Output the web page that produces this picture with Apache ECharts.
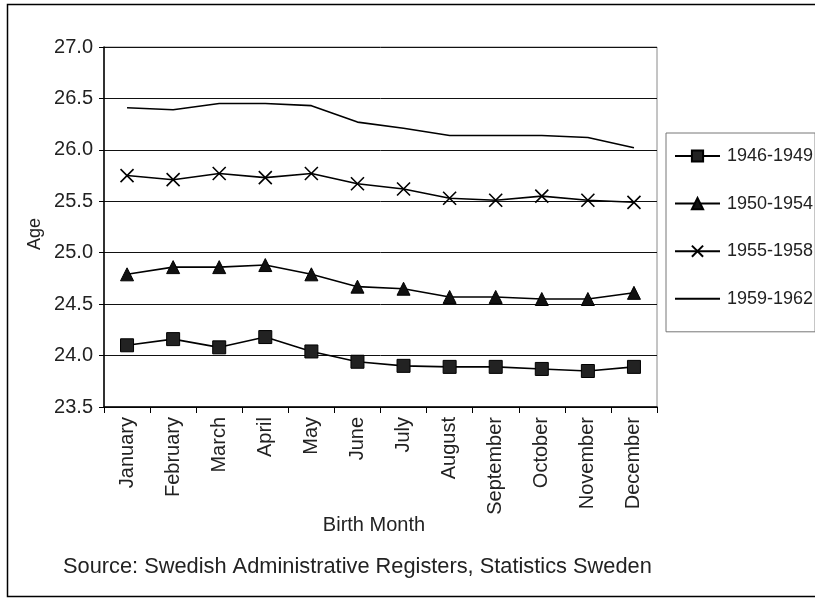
<!DOCTYPE html>
<html>
<head>
<meta charset="utf-8">
<script src="https://cdn.jsdelivr.net/npm/echarts@6/dist/echarts.min.js"></script>
<style>
  html, body { margin: 0; padding: 0; background: #fff; }
  #chart { width: 815px; height: 600px; }
</style>
</head>
<body>
<div id="chart"></div>
<script>
// Mean age by birth month, four birth cohorts
const months = ['January', 'February', 'March', 'April', 'May', 'June',
  'July', 'August', 'September', 'October', 'November', 'December'];

const cohort1946 = [24.10, 24.16, 24.08, 24.18, 24.04, 23.94, 23.90, 23.89, 23.89, 23.87, 23.85, 23.89];
const cohort1950 = [24.79, 24.86, 24.86, 24.88, 24.79, 24.67, 24.65, 24.57, 24.57, 24.55, 24.55, 24.61];
const cohort1955 = [25.75, 25.71, 25.77, 25.73, 25.77, 25.67, 25.62, 25.53, 25.51, 25.55, 25.51, 25.49];
const cohort1959 = [26.41, 26.39, 26.45, 26.45, 26.43, 26.27, 26.21, 26.14, 26.14, 26.14, 26.12, 26.02];

const seriesNames = ['1946-1949', '1950-1954', '1955-1958', '1959-1962'];

const FONT = '"Liberation Sans", Arial, sans-serif';
const INK = '#222';
const CROSS = 'path://M0,0L10,10M10,0L0,10';

const chart = echarts.init(document.getElementById('chart'), null, { renderer: 'canvas' });

function lineSeries(name, data, symbol, size, itemStyle) {
  return {
    name: name,
    type: 'line',
    data: data,
    symbol: symbol,
    symbolSize: size,
    showSymbol: size > 0,
    lineStyle: { color: '#000', width: 1.6 },
    itemStyle: itemStyle,
    emphasis: { disabled: true },
    animation: false
  };
}

chart.setOption({
  animation: false,
  textStyle: { fontFamily: FONT },
  grid: { left: 104, right: 158, top: 47, bottom: 193, show: true,
    borderColor: '#8a8a8a', borderWidth: 1, backgroundColor: 'transparent' },
  legend: {
    orient: 'vertical',
    left: 666, top: 133,
    width: 148, height: 195,
    padding: [14, 2, 24, 8],
    itemGap: 29.6,
    itemWidth: 45,
    itemHeight: 14,
    borderColor: '#777',
    borderWidth: 1,
    textStyle: { fontSize: 18, color: INK, fontFamily: FONT, padding: [0, 0, 0, 2] },
    data: [
      seriesNames[0],
      seriesNames[1],
      seriesNames[2],
      // plain line entry: hide the legend marker
      { name: seriesNames[3], itemStyle: { opacity: 0 } }
    ]
  },
  xAxis: {
    type: 'category',
    data: months,
    boundaryGap: true,
    axisLine: { lineStyle: { color: '#000', width: 1.5 } },
    axisTick: { show: true, length: 6, alignWithLabel: false, lineStyle: { color: '#000' } },
    axisLabel: { rotate: 90, fontSize: 20, color: INK, margin: 10, interval: 0 },
    splitLine: { show: false }
  },
  yAxis: {
    type: 'value',
    min: 23.5,
    max: 27,
    interval: 0.5,
    axisLine: { show: true, lineStyle: { color: '#000', width: 1.5 } },
    axisTick: { show: true, length: 5, inside: false, lineStyle: { color: '#000' } },
    axisLabel: { fontSize: 20, color: INK, margin: 11,
      formatter: v => v.toFixed(1) },
    splitLine: { show: true, lineStyle: { color: '#111', width: 1 } }
  },
  graphic: [
    { type: 'rect', silent: true,
      shape: { x: 7.5, y: 4.5, width: 830, height: 592 },
      style: { fill: 'none', stroke: '#000', lineWidth: 1.5 } },
    // axis titles
    { type: 'text', silent: true, x: 35, y: 234, rotation: Math.PI / 2,
      style: { text: 'Age', font: '18px ' + FONT, fill: INK,
        align: 'center', verticalAlign: 'middle' } },
    { type: 'text', silent: true, x: 374, y: 525,
      style: { text: 'Birth Month', font: '20px ' + FONT, fill: INK,
        align: 'center', verticalAlign: 'middle' } },
    { type: 'text', silent: true, left: 63, top: 556,
      style: { text: 'Source: Swedish Administrative Registers, Statistics Sweden',
        font: '21.8px ' + FONT, fill: INK } }
  ],
  series: [
    lineSeries(seriesNames[0], cohort1946, 'rect', 13,
      { color: '#222', borderColor: '#000', borderWidth: 1 }),
    lineSeries(seriesNames[1], cohort1950, 'triangle', 13,
      { color: '#111', borderColor: '#000', borderWidth: 1 }),
    lineSeries(seriesNames[2], cohort1955, CROSS, 13,
      { color: 'transparent', borderColor: '#000', borderWidth: 1.6 }),
    lineSeries(seriesNames[3], cohort1959, 'circle', 0,
      { color: '#000' })
  ]
});
</script>
</body>
</html>
